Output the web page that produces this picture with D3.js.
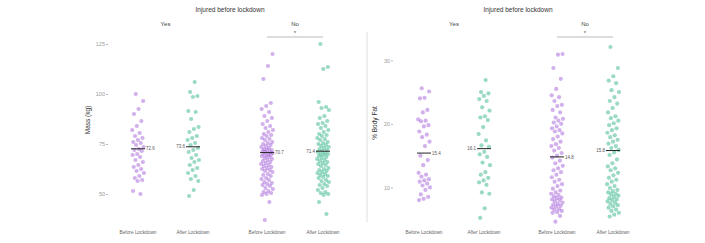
<!DOCTYPE html>
<html>
<head>
<meta charset="utf-8">
<script src="https://cdn.jsdelivr.net/npm/d3@7"></script>
<style>
  body { margin: 0; background: #fff; }
  text { font-family: "Liberation Sans", Arial, sans-serif; }
</style>
</head>
<body>
<svg width="705" height="243"></svg>
<script>
// groups, in plotting order
const injured = ["Yes", "Yes", "No", "No"];
const periods = ["Before Lockdown", "After Lockdown", "Before Lockdown", "After Lockdown"];

// body mass (kg) per group
const massYesBefore = [100, 96.5, 92.5, 90, 86.5, 84, 82, 80.5, 79, 78, 77, 76, 75.5, 74.5, 73.5, 72.5, 72, 71.5, 70, 69.5, 68.5, 67, 66, 64.5, 63.5, 62.5, 61.5, 60.5, 59, 58, 57, 56.5, 51.5, 50];
const massYesAfter = [106, 101, 99, 98.5, 91.5, 91, 87.5, 83.5, 82.5, 81, 79, 78, 77, 75.5, 74.5, 73, 72, 71, 69.5, 68, 67, 66, 64.5, 63, 62, 60.5, 59, 57.5, 56.5, 52, 49];
const massNoBefore = [120, 114, 107.5, 95.5, 94, 92.5, 91, 89, 88, 86.5, 85, 84, 83, 82, 81, 80, 79.5, 79, 78, 77.5, 77, 76, 75.5, 75, 74.5, 74, 73.5, 73, 72.5, 72, 72, 71.5, 71, 71, 70.5, 70, 70, 69.5, 69, 69, 68.5, 68, 67.5, 67, 66.5, 66, 65.5, 65, 64.5, 64, 63.5, 63, 62.5, 62, 61.5, 61, 60, 59.5, 59, 58, 57.5, 57, 56, 55.5, 55, 54.5, 54, 53, 52.5, 51.5, 51, 50.5, 50, 49.5, 46, 37];
const massNoAfter = [125, 113.5, 112.5, 96, 93.5, 93, 92, 89, 88, 86.5, 85.5, 85, 84, 83, 82, 81, 80, 79.5, 79, 78, 77.5, 77, 76, 75.5, 75, 74.5, 74, 73.5, 73, 72.5, 72, 71.5, 71, 70.5, 70, 70, 69.5, 69, 68.5, 68, 67.5, 67, 66.5, 66, 65.5, 65, 64.5, 64, 63, 62.5, 62, 61.5, 61, 60.5, 60, 59.5, 59, 58.5, 58, 57, 56.5, 56, 55, 54.5, 54, 53, 52, 51, 50.5, 50, 49.5, 46, 40];
const massMeans = [72.6, 73.6, 70.7, 71.4];
const massTicks = [50, 75, 100, 125];

// body fat (%) per group
const fatYesBefore = [25.6, 25.1, 24.1, 24, 22.2, 21.8, 20.7, 20.5, 20.4, 19.8, 19.6, 18.8, 18.3, 17.9, 17.2, 16.5, 15, 14.3, 13.5, 12.3, 12, 11.7, 11.3, 11.1, 10.9, 10.6, 10.3, 10, 9.6, 8.9, 8.5, 8.2, 8];
const fatYesAfter = [26.9, 25, 24.8, 24.4, 23.9, 23.6, 22.6, 22.1, 21.2, 21, 20.6, 19.5, 18.4, 17.4, 16.6, 16.4, 15.6, 15.2, 14.8, 13.9, 13.5, 12.4, 12, 11.5, 11.1, 10.8, 10.4, 9.2, 9, 6.7, 5.2];
const fatNoBefore = [31, 30.9, 28.8, 27.1, 25.5, 24.5, 24.2, 23.6, 23, 22.8, 22.2, 21.8, 21, 20.8, 20.5, 20.2, 20, 19.6, 19.3, 19, 18.8, 18.5, 18, 17.6, 17.2, 16.8, 16.5, 16.2, 15.8, 15.4, 15, 14.7, 14.2, 13.8, 13.4, 13, 12.7, 12.4, 12, 11.6, 11.2, 10.9, 10.5, 10.2, 9.8, 9.5, 9.2, 9, 8.8, 8.6, 8.4, 8.3, 8.1, 8, 7.8, 7.6, 7.4, 7.3, 7.1, 7, 6.8, 6.6, 6.5, 6.3, 6.1, 6, 5.5, 4.6];
const fatNoAfter = [32.1, 28.8, 27.5, 26.8, 26.4, 25.3, 25, 24.2, 23.6, 23.2, 22.5, 21.8, 21.2, 20.9, 20.5, 20.1, 19.8, 19.3, 19, 18.6, 18.2, 17.9, 17.5, 17.2, 16.9, 16.5, 16.2, 15.9, 15.5, 15.1, 14.4, 13.8, 13.3, 13, 12.7, 12.3, 11.9, 11.5, 11.2, 10.9, 10.5, 10.2, 9.9, 9.6, 9.4, 9.2, 9, 8.9, 8.7, 8.5, 8.3, 8.1, 8, 7.8, 7.6, 7.4, 7.2, 7, 6.8, 6.5, 6.3, 6, 5.7, 5.4];
const fatMeans = [15.4, 16.1, 14.8, 15.8];
const fatTicks = [10, 20, 30];

const purple = "#9a4fd4", green = "#1fae7c";

var svg = d3.select("svg");

// deterministic jitter so the strips look like geom_jitter
function jit(i) {
    return ((i * 0.6180339887 + 0.31) % 1) * 2 - 1;
}

function panel(opts) {
    var g = svg.append("g");
    var xpos = i => opts.xs[i];
    var y = d3.scaleLinear().domain(opts.yDomain).range(opts.yRange);

    g.append("text")
        .attr("x", opts.titleX).attr("y", 12)
        .attr("text-anchor", "middle")
        .attr("font-size", 6.5).attr("fill", "#333")
        .text("Injured before lockdown");

    [["Yes", (xpos(0) + xpos(1)) / 2], ["No", (xpos(2) + xpos(3)) / 2]].forEach(function (d) {
        g.append("text")
            .attr("x", d[1]).attr("y", 26)
            .attr("text-anchor", "middle")
            .attr("font-size", 6).attr("fill", "#444")
            .text(d[0]);
    });

    // significance bracket between the No groups
    g.append("line")
        .attr("x1", xpos(2)).attr("x2", xpos(3))
        .attr("y1", 37).attr("y2", 37)
        .attr("stroke", "#aaa").attr("stroke-width", 0.8);
    g.append("text")
        .attr("x", (xpos(2) + xpos(3)) / 2).attr("y", 35)
        .attr("text-anchor", "middle")
        .attr("font-size", 6).attr("fill", "#555")
        .text("*");

    // y axis (labels only)
    var ax = g.append("g")
        .attr("transform", "translate(" + opts.axisX + ",0)")
        .call(d3.axisLeft(y).tickValues(opts.ticks).tickSize(2).tickPadding(1));
    ax.select(".domain").remove();
    ax.selectAll(".tick line").attr("stroke", "#bbb");
    ax.selectAll(".tick text").attr("fill", "#999").attr("font-size", 5.5)
        .attr("font-family", "Liberation Sans, Arial, sans-serif");

    g.append("text")
        .attr("transform", "translate(" + opts.titleYX + "," + opts.titleYY + ") rotate(-90)")
        .attr("text-anchor", "middle")
        .attr("font-size", 6.5).attr("fill", "#333")
        .text(opts.yTitle);

    // category labels
    periods.forEach(function (p, i) {
        g.append("text")
            .attr("x", xpos(i)).attr("y", 234)
            .attr("text-anchor", "middle")
            .attr("font-size", 4.8).attr("fill", "#666")
            .text(p);
    });

    // points
    opts.series.forEach(function (vals, k) {
        var col = k % 2 === 0 ? purple : green;
        g.append("g").selectAll("circle")
            .data(vals)
            .enter().append("circle")
            .attr("cx", (d, i) => xpos(k) + jit(i + k * 7) * 6)
            .attr("cy", d => y(d))
            .attr("r", 2.1)
            .attr("fill", col)
            .attr("fill-opacity", 0.45);
    });

    // mean lines and labels
    opts.means.forEach(function (m, k) {
        g.append("line")
            .attr("x1", xpos(k) - 7).attr("x2", xpos(k) + 7)
            .attr("y1", y(m)).attr("y2", y(m))
            .attr("stroke", "#222").attr("stroke-width", 1);
        var before = k % 2 === 0;
        g.append("text")
            .attr("x", before ? xpos(k) + 8 : xpos(k) - 8)
            .attr("y", y(m) + 1.6)
            .attr("text-anchor", before ? "start" : "end")
            .attr("font-size", 4.5).attr("fill", "#555")
            .text(m.toFixed(1));
    });
}

panel({
    xs: [138, 193, 267, 323],
    yDomain: [35, 127],
    yRange: [224, 40],
    ticks: massTicks,
    axisX: 108,
    titleX: 230,
    titleYX: 90, titleYY: 120,
    yTitle: "Mass (kg)",
    series: [massYesBefore, massYesAfter, massNoBefore, massNoAfter],
    means: massMeans
});

// thin divider between the two figures
svg.append("line")
    .attr("x1", 367).attr("x2", 367)
    .attr("y1", 32).attr("y2", 222)
    .attr("stroke", "#ddd").attr("stroke-width", 1);

panel({
    xs: [424, 484, 557, 613],
    yDomain: [4, 33],
    yRange: [225.5, 41.3],
    ticks: fatTicks,
    axisX: 393,
    titleX: 518,
    titleYX: 377, titleYY: 123,
    yTitle: "% Body Fat",
    series: [fatYesBefore, fatYesAfter, fatNoBefore, fatNoAfter],
    means: fatMeans
});
</script>
</body>
</html>
